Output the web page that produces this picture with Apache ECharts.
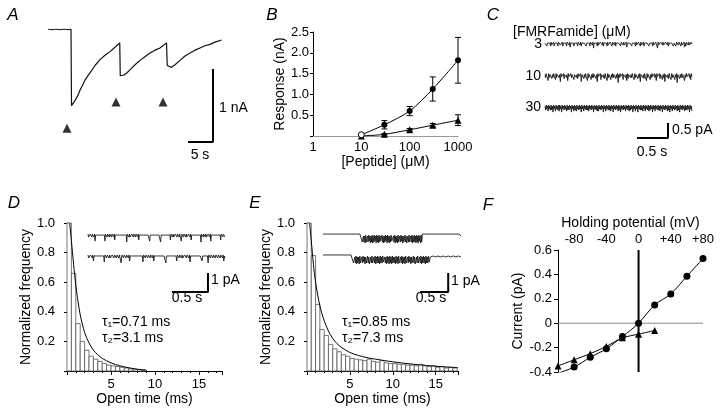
<!DOCTYPE html>
<html><head><meta charset="utf-8">
<script src="https://cdn.jsdelivr.net/npm/echarts@6/dist/echarts.min.js"></script>
<style>html,body{margin:0;padding:0;background:#fff}#c{width:720px;height:412px}</style>
</head><body><div id="c"></div>
<script>
// ---------- Panel A: whole-cell current (nA) vs time (s)
const aTime = [1.6,2.4,3.2,4.0,4.8,5.6,6.2, 6.3,6.6,7.0,7.5,8.0,8.5,9.0,9.5,10, 11,12,13,14,15,15.95, 16.05,16.3,16.8,17.4,18,19,20,21,22,23,24,25.3, 25.45,26.3,27,28,29,30,31,32,33,34,35,36.3];
const aCurrent = [0,-0.01,0,-0.01,0,-0.01,0, -1.05,-1.03,-0.98,-0.92,-0.84,-0.77,-0.70,-0.65,-0.60, -0.50,-0.42,-0.36,-0.31,-0.25,-0.19, -0.64,-0.66,-0.63,-0.60,-0.56,-0.49,-0.43,-0.38,-0.33,-0.29,-0.26,-0.19, -0.50,-0.525,-0.49,-0.43,-0.37,-0.33,-0.29,-0.26,-0.23,-0.21,-0.18,-0.15];
const aPuffTime = [5.4, 15.2, 24.6];
const aPuffLevel = [-1.36, -1.0, -1.0];

// ---------- Panel B: dose response
const bConc = [10, 30, 100, 300, 1000];
const bCircle = [0.03, 0.27, 0.60, 1.13, 1.82];
const bCircleErr = [0, 0.10, 0.11, 0.29, 0.55];
const bTri = [0.0, 0.04, 0.15, 0.26, 0.38];
const bTriErr = [0, 0.02, 0.03, 0.04, 0.13];

// ---------- Panel C: single-channel traces (each digit = current step, '2' = baseline, larger = downward)
const cLabels = ['3', '10', '30'];
const cTraces = [
 "130413021403120413031402031304120314021305130214130314021304130213041203140213061302140313021304120314031302140213041302131402130314051302130413021403130214031204130213041302140313021603140213031402130413021304131402130214031305140213031402",
 "140317041305140216041304180314051304170314041306130415031408130514031704130614041305180314061304150317041306140413051409140314061304170513041403160413051408130415031704130614031304170314051306140813041503160413061409130514041307140315041603",
 "150416041505170416041506041704150416051504170416051604150417041604150516041504170415061604150417041604150516041704150416051704150416041506150417041604170415051604160415061504170416041505160417041504160517041604150416051704150416051504170416"
];
const cDuration = 2.37;

// ---------- Panel D: open time histogram + traces
const histBin = 0.5;
const dHist = [1.0,0.66,0.32,0.20,0.14,0.10,0.08,0.065,0.05,0.04,0.035,0.03,0.025,0.02,0.015,0.012,0.01,0.006];
const dFit = [[0.3,1.0],[0.5,0.88],[0.75,0.72],[1.0,0.58],[1.25,0.47],[1.5,0.38],[2,0.26],[2.5,0.19],[3,0.14],[3.5,0.11],[4,0.085],[5,0.055],[6,0.035],[7,0.022],[8,0.012],[9,0.006]];
const dTraces = [
 "031302130213071302130213031302170213021302130213061302130213031302130218021303130213021302130613021302130213021307130213031302130213081302130213021302160213031302130213021702130213031302130613021302130213021802130213031302130713021302130213021602130213",
 "031302130613021302130213021702130213031302130213021302180213021302130613031302130213021302170213021302130213061302130213031302130813021302130213021602130213031302130213071302130213031302130613021302180213021302130213021302130613"
];
const dDuration = 1.9;

// ---------- Panel E
const eHist = [1.0,0.78,0.45,0.28,0.24,0.18,0.15,0.13,0.11,0.10,0.085,0.08,0.075,0.07,0.08,0.065,0.06,0.07,0.055,0.05,0.05,0.045,0.045,0.04,0.04,0.035,0.045,0.035,0.03,0.035,0.025,0.03,0.02,0.025,0.02];
const eFit = [[0.3,1.0],[0.5,0.88],[0.75,0.72],[1,0.6],[1.5,0.44],[2,0.34],[2.5,0.27],[3,0.22],[3.5,0.185],[4,0.16],[5,0.125],[6,0.105],[7,0.09],[8,0.08],[10,0.062],[12,0.048],[14,0.037],[16,0.028],[17.6,0.023]];
const eTraces = [
 "02120201021202010212020102120201021202010212020102120201021202010212" +
 "89282918928172928192817291829182791829281729182928178928192829189281729289182982818928192818291829172918" +
 "02120201021202010212020102120201021202010212020102120201021202010212",
 "020102120201021202010212020102120201021202010212" +
 "89281928291892817292891829828189281928182918281792829182918291828291829189281928291892817292891829828189281928182918281792" +
 "020102120201021202010212020102120201021202010212"
];
const eDuration = 2.46;

// ---------- Panel F: I-V relation
const fVolt = [-100,-80,-60,-40,-20,0,20,40,60,80];
const fCircle = [-0.41,-0.36,-0.28,-0.21,-0.11,0,0.15,0.24,0.385,0.53];
const fTriVolt = [-100,-80,-60,-40,-20,0,20];
const fTri = [-0.35,-0.30,-0.25,-0.19,-0.12,-0.09,-0.06];

// =====================================================
const FONT = '"Liberation Sans", Arial, Helvetica, sans-serif';
const lbl = (o) => Object.assign({color:'#000', fontFamily:FONT, fontSize:13}, o || {});
const nameSty = {color:'#000', fontFamily:FONT, fontSize:14};
const blackLine = {show:true, onZero:false, lineStyle:{color:'#000', width:1}};

function decodeTrace(codes, duration, base, step){
  const n = codes.length;
  return Array.from(codes, (c,i) => [i*duration/(n-1), base + (2 - Number(c))*step]);
}
function lineSeries(data, xi, extra){
  return Object.assign({type:'line', xAxisIndex:xi, yAxisIndex:xi, data, showSymbol:false, symbol:'none',
    lineStyle:{color:'#111', width:0.8}, silent:true, z:3}, extra || {});
}
function errRender(params, api){
  const x=api.value(0), y=api.value(1), e=api.value(2);
  if(!e) return null;
  const p1=api.coord([x,y+e]), p2=api.coord([x,y-e]);
  const c=3, s={stroke:'#000', lineWidth:1};
  return {type:'group', children:[
    {type:'line', shape:{x1:p1[0],y1:p1[1],x2:p2[0],y2:p2[1]}, style:s},
    {type:'line', shape:{x1:p1[0]-c,y1:p1[1],x2:p1[0]+c,y2:p1[1]}, style:s},
    {type:'line', shape:{x1:p2[0]-c,y1:p2[1],x2:p2[0]+c,y2:p2[1]}, style:s}]};
}
function histRender(params, api){
  const x0=api.value(0), v=api.value(1), w=api.value(2);
  const p0=api.coord([x0, v]), p1=api.coord([x0+w, 0]);
  return {type:'rect', shape:{x:p0[0], y:p0[1], width:p1[0]-p0[0], height:p1[1]-p0[1]},
    style:{fill:'#fff', stroke:'#555', lineWidth:0.8}};
}
function scaleBar(xi, corner, dx, dy){
  return lineSeries([[corner[0], corner[1]+dy], corner, [corner[0]-dx, corner[1]]], xi,
    {lineStyle:{color:'#000', width:2}});
}

const grids = [
  {left:40,  top:29,  width:190, height:146}, // A
  {left:313, top:32,  width:145, height:104}, // B
  {left:545, top:30,  width:155, height:120}, // C
  {left:67,  top:223, width:155, height:148}, // D hist
  {left:88,  top:226, width:137, height:76},  // D inset
  {left:307, top:223, width:151, height:148}, // E hist
  {left:323, top:226, width:138, height:76},  // E inset
  {left:558, top:250, width:145, height:122}  // F
];

const histX = (gi) => ({gridIndex:gi, type:'value', min:0, max:17.6, interval:5,
  axisLine:blackLine, axisTick:{show:true, length:4, lineStyle:{color:'#000'}},
  minorTick:{show:true, splitNumber:5, length:2, lineStyle:{color:'#000'}},
  splitLine:{show:false},
  axisLabel:lbl({margin:7, formatter:v => (v>0 && v%5===0) ? String(v) : ''}),
  name:'Open time (ms)', nameLocation:'middle', nameGap:20, nameTextStyle:nameSty});
const histY = (gi) => ({gridIndex:gi, type:'value', min:0, max:1, interval:0.2,
  axisLine:blackLine, axisTick:{show:true, length:3, lineStyle:{color:'#000'}},
  splitLine:{show:false},
  axisLabel:lbl({margin:12, formatter:v => v<0.01 ? '' : v.toFixed(1)}),
  name:'Normalized frequency', nameLocation:'middle', nameGap:31, nameTextStyle:nameSty});
const hidden = (gi,min,max) => ({gridIndex:gi, type:'value', min, max, show:false});

const xAxes = [
  hidden(0,0,38),
  {gridIndex:1, type:'log', logBase:10, min:1, max:1000,
    axisLine:{show:true, onZero:false, lineStyle:{color:'#999', width:1}}, axisTick:{show:false},
    splitLine:{show:false}, minorTick:{show:false}, minorSplitLine:{show:false},
    axisLabel:lbl({margin:5, formatter:v => String(Math.round(v))}),
    name:'[Peptide] (μM)', nameLocation:'middle', nameGap:17, nameTextStyle:nameSty},
  hidden(2,0,2.5),
  histX(3),
  hidden(4,0,dDuration),
  histX(5),
  hidden(6,0,eDuration),
  {gridIndex:7, type:'value', min:-100, max:80, interval:20, position:'top',
    axisLine:{show:false, onZero:false}, axisTick:{show:false}, splitLine:{show:false},
    axisLabel:lbl({margin:4, formatter:v => (v%40===0) ? (v>0 ? '+'+v : String(v)) : ''}),
    name:'Holding potential (mV)', nameLocation:'middle', nameGap:20, nameTextStyle:nameSty}
];
const yAxes = [
  hidden(0,-2,0),
  {gridIndex:1, type:'value', min:0, max:2.5, interval:0.5, axisLine:blackLine,
    axisTick:{show:true, length:3, lineStyle:{color:'#000'}}, splitLine:{show:false},
    axisLabel:lbl({margin:4, formatter:v => v<0.01 ? '' : v.toFixed(1)}),
    name:'Response (nA)', nameLocation:'middle', nameGap:26, nameTextStyle:nameSty},
  hidden(2,-4,0),
  histY(3),
  hidden(4,-4,0),
  histY(5),
  hidden(6,-4,0),
  {gridIndex:7, type:'value', min:-0.4, max:0.6, interval:0.2, axisLine:blackLine,
    axisTick:{show:true, length:4, lineStyle:{color:'#000'}}, splitLine:{show:false},
    axisLabel:lbl({margin:6, formatter:v => Math.abs(v)<1e-9 ? '0' : v.toFixed(1)}),
    name:'Current (pA)', nameLocation:'middle', nameGap:33, nameTextStyle:nameSty}
];

const traceStyle = {lineStyle:{color:'#1a1a1a', width:0.9}};
const series = [];
// A
series.push(lineSeries(aTime.map((t,i)=>[t,aCurrent[i]]), 0, {lineStyle:{color:'#111', width:1.2}}));
series.push({type:'scatter', xAxisIndex:0, yAxisIndex:0, data:aPuffTime.map((t,i)=>[t,aPuffLevel[i]]),
  symbol:'triangle', symbolSize:9, itemStyle:{color:'#000'}, silent:true});
series.push(scaleBar(0, [34.6,-1.548], 5, 1));
// B
series.push({type:'custom', xAxisIndex:1, yAxisIndex:1, renderItem:errRender, encode:{x:0,y:1},
  data:bConc.map((c,i)=>[c,bCircle[i],bCircleErr[i]]), silent:true, z:2});
series.push({type:'custom', xAxisIndex:1, yAxisIndex:1, renderItem:errRender, encode:{x:0,y:1},
  data:bConc.map((c,i)=>[c,bTri[i],bTriErr[i]]), silent:true, z:2});
series.push({type:'line', xAxisIndex:1, yAxisIndex:1, smooth:0.3, symbol:'triangle', symbolSize:7,
  data:bConc.map((c,i)=>[c,bTri[i]]), lineStyle:{color:'#000', width:1}, itemStyle:{color:'#000'}, silent:true, z:3});
series.push({type:'line', xAxisIndex:1, yAxisIndex:1, smooth:0.3, symbol:'circle', symbolSize:6,
  data:bConc.map((c,i)=> i===0 ? {value:[c,bCircle[i]], itemStyle:{color:'#fff', borderColor:'#000', borderWidth:1}} : [c,bCircle[i]]),
  lineStyle:{color:'#000', width:1}, itemStyle:{color:'#000'}, silent:true, z:4});
// C
cTraces.forEach((tr,i) => series.push(lineSeries(decodeTrace(tr, cDuration, -0.47 - i*1.05, 1/30), 2, traceStyle)));
series.push(scaleBar(2, [1.984,-3.6], 0.5, 0.5));
// D
series.push({type:'custom', xAxisIndex:3, yAxisIndex:3, renderItem:histRender, encode:{x:0,y:1},
  data:dHist.map((v,i)=>[i*histBin, v, histBin]), silent:true, z:2});
series.push(lineSeries(dFit, 3, {smooth:0.3, lineStyle:{color:'#000', width:1}}));
dTraces.forEach((tr,i) => series.push(lineSeries(decodeTrace(tr, dDuration, -0.53 - i*1.1, 1/19), 4, traceStyle)));
series.push(scaleBar(4, [1.664,-3.47], 0.5, 1));
// E
series.push({type:'custom', xAxisIndex:5, yAxisIndex:5, renderItem:histRender, encode:{x:0,y:1},
  data:eHist.map((v,i)=>[i*histBin, v, histBin]), silent:true, z:2});
series.push(lineSeries(eFit, 5, {smooth:0.3, lineStyle:{color:'#000', width:1}}));
eTraces.forEach((tr,i) => series.push(lineSeries(decodeTrace(tr, eDuration, -0.53 - i*1.1, 1/19), 6, traceStyle)));
series.push(scaleBar(6, [2.232,-3.47], 0.5, 1));
// F
series.push(lineSeries([[-100,0],[80,0]], 7, {lineStyle:{color:'#888', width:1}, z:1}));
series.push(lineSeries([[0,-0.4],[0,0.6]], 7, {lineStyle:{color:'#000', width:2}, z:1}));
series.push({type:'line', xAxisIndex:7, yAxisIndex:7, smooth:0.3, symbol:'triangle', symbolSize:7,
  data:fTriVolt.map((v,i)=>[v,fTri[i]]), lineStyle:{color:'#000', width:1}, itemStyle:{color:'#000'}, silent:true, z:3});
series.push({type:'line', xAxisIndex:7, yAxisIndex:7, smooth:0.3, symbol:'circle', symbolSize:7,
  data:fVolt.map((v,i)=>[v,fCircle[i]]), lineStyle:{color:'#000', width:1}, itemStyle:{color:'#000'}, silent:true, z:4});

// texts
const T = (x,y,text,o) => ({type:'text', x, y, silent:true, z:10,
  style:Object.assign({text, fontFamily:FONT, fontSize:14, fill:'#000', align:'left', verticalAlign:'middle'}, o || {})});
const L = (x,y,t) => T(x,y,t,{fontSize:17, fontStyle:'italic', align:'center'});
const graphic = [
  L(13,15,'A'), L(272,15,'B'), L(493,15,'C'), L(14,203,'D'), L(255,203,'E'), L(488,205,'F'),
  T(219,108,'1 nA'), T(200,155,'5 s',{align:'center'}),
  T(513,32,'[FMRFamide] (μM)'),
  T(542,44,cLabels[0],{align:'right'}), T(541,76,cLabels[1],{align:'right'}), T(541,107,cLabels[2],{align:'right'}),
  T(672,130,'0.5 pA'), T(652,152,'0.5 s',{align:'center'}),
  T(211,280,'1 pA'), T(187,298,'0.5 s',{align:'center'}),
  T(102,322,'τ₁=0.71 ms'), T(102,338,'τ₂=3.1 ms'),
  T(451,281,'1 pA'), T(431,298,'0.5 s',{align:'center'}),
  T(342,322,'τ₁=0.85 ms'), T(342,338,'τ₂=7.3 ms')
];

const chart = echarts.init(document.getElementById('c'), null, {renderer:'canvas'});
chart.setOption({
  animation:false, backgroundColor:'#fff',
  textStyle:{fontFamily:FONT},
  grid:grids, xAxis:xAxes, yAxis:yAxes, series, graphic
});
</script></body></html>
